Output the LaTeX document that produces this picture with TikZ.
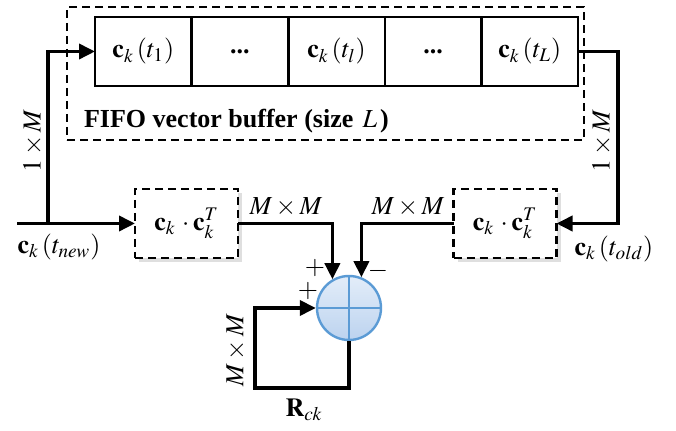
\documentclass[tikz,border=0pt]{standalone}
\usepackage{amsmath}
\usepackage{mathptmx}
\usepackage[no-math]{fontspec}
\setmainfont{Liberation Serif}
\usepackage{tikz}
\usetikzlibrary{positioning,arrows.meta,calc,shadows}

\definecolor{sumline}{HTML}{5B9BD5}
\definecolor{sumtop}{HTML}{E3EDF9}
\definecolor{sumbot}{HTML}{BCD3EF}

\begin{document}
\begin{tikzpicture}[
    x=0.5pt, y=-0.5pt,
    font=\fontsize{13}{15}\selectfont,
    cell/.style={draw, line width=1.3pt, minimum width=48.3pt, minimum height=34.5pt, inner sep=0pt, outer sep=0pt},
    frame/.style={draw, line width=0.8pt, dash pattern=on 4pt off 2.5pt, minimum width=258.5pt, minimum height=66.5pt},
    mulbox/.style={draw, line width=1.4pt, dash pattern=on 4pt off 2.5pt, fill=white, minimum width=51.5pt, minimum height=34.5pt, outer sep=0pt,
      drop shadow={opacity=0.25, shadow xshift=2pt, shadow yshift=-2pt}},
    wire/.style={line width=1.8pt},
    arr/.style={wire, -{Triangle[length=8pt, width=7.5pt]}},
    sumnode/.style={circle, draw=sumline, line width=1.2pt, top color=sumtop, bottom color=sumbot, minimum size=32pt, inner sep=0pt,
      path picture={\draw[sumline, line width=1.2pt] (path picture bounding box.north) -- (path picture bounding box.south)
        (path picture bounding box.west) -- (path picture bounding box.east);}},
    lbl/.style={inner sep=1pt},
  ]
  \useasboundingbox (0,0) rectangle (676,431);

  % FIFO buffer
  \node[frame] (fifo) at (325.5,73.5) {};
  \node[cell] (cell1) at (143.3,51.5) {$\mathbf{c}_k\left(t_1\right)$};
  \foreach \i/\j/\txt in {2/1/{\textbf{...}}, 3/2/{$\mathbf{c}_k\left(t_l\right)$}, 4/3/{\textbf{...}}, 5/4/{$\mathbf{c}_k\left(t_L\right)$}} {
    \node[cell, right=0pt of cell\j] (cell\i) {\txt};
  }
  \node[anchor=west] (fifolbl) at (77,121)
    {\textbf{FIFO vector buffer (size} $\,L\,$\textbf{)}};

  % outer products and sum
  \node[mulbox] (lbox) at (186.5,223.5) {$\mathbf{c}_k\,\cdot\mathbf{c}_k^T$};
  \node[mulbox] (rbox) at (505,223.5) {$\mathbf{c}_k\,\cdot\mathbf{c}_k^T$};
  \node[sumnode] (sum) at (349,308) {};

  % input side
  \coordinate (in) at (17,223.5);
  \coordinate (split) at (48,223.5);
  \draw[arr] (in) -- (lbox.west);
  \draw[arr] (split) |- (cell1.west);
  \node[lbl] (tnew) at (59,247) {$\mathbf{c}_k\left(t_{new}\right)$};
  \node[lbl, rotate=90] (lin) at (33,141) {$1\times M$};

  % output side
  \coordinate (turn) at (618,223.5);
  \draw[arr] (cell5.east) -| (turn) -- (rbox.east);
  \node[lbl] (told) at (614,249) {$\mathbf{c}_k\left(t_{old}\right)$};
  \node[lbl, rotate=90] (rin) at (602,141) {$1\times M$};

  % into the sum
  \draw[arr] (lbox.east) -| (sum.120);
  \draw[arr] (rbox.west) -| (sum.68);
  \node[lbl] (lmm) at (286,207) {$M\times M$};
  \node[lbl] (rmm) at (408,207) {$M\times M$};
  \node[lbl] (p1) at (315,268) {$+$};
  \node[lbl] (p2) at (308,291) {$+$};
  \node[lbl] (m1) at (378,271) {$-$};

  % feedback
  \coordinate (fbR) at (349,388);
  \coordinate (fbL) at (255,388);
  \draw[arr] (sum.south) -- (fbR) -- (fbL) |- (sum.west);
  \node[lbl, rotate=90] (fbmm) at (236,350) {$M\times M$};
  \node[lbl] (rck) at (304,410) {$\mathbf{R}_{ck}$};
\end{tikzpicture}
\end{document}
